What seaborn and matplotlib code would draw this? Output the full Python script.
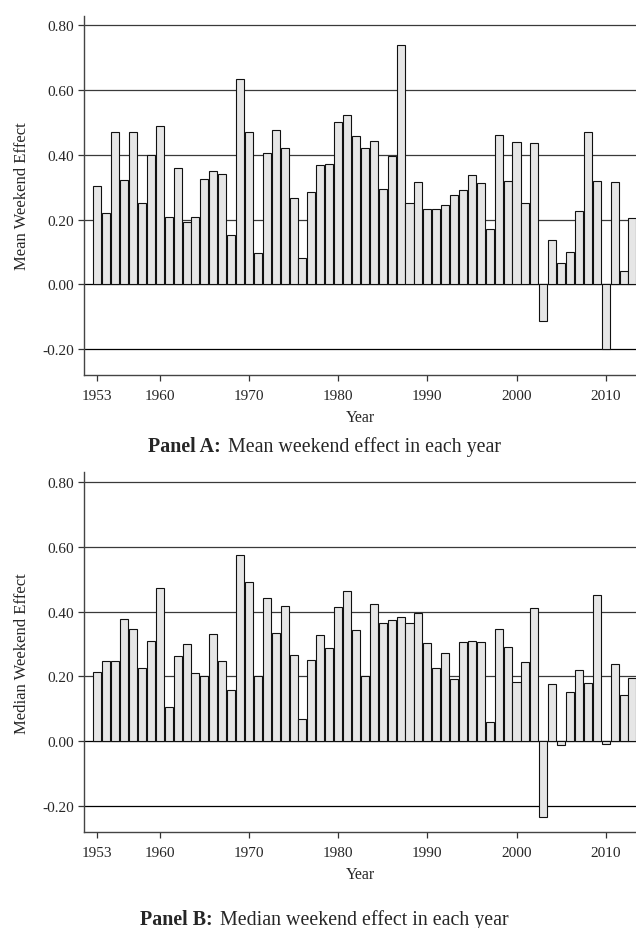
import numpy as np
import pandas as pd
import matplotlib
matplotlib.use("Agg")
import matplotlib.pyplot as plt
import seaborn as sns

years = list(range(1953, 2014))

mean_effect = [
    0.304, 0.219, 0.470, 0.321, 0.472, 0.251, 0.401, 0.489, 0.209, 0.358,
    0.194, 0.208, 0.327, 0.351, 0.340, 0.154, 0.635, 0.470, 0.097, 0.407,
    0.477, 0.420, 0.266, 0.082, 0.285, 0.370, 0.373, 0.501, 0.524, 0.459,
    0.420, 0.443, 0.294, 0.397, 0.739, 0.251, 0.317, 0.234, 0.232, 0.245,
    0.277, 0.290, 0.339, 0.314, 0.170, 0.461, 0.319, 0.441, 0.250, 0.436,
    -0.113, 0.136, 0.067, 0.099, 0.228, 0.472, 0.318, -0.201, 0.317, 0.041,
    0.204,
]

median_effect = [
    0.215, 0.247, 0.247, 0.378, 0.346, 0.225, 0.310, 0.474, 0.106, 0.264,
    0.301, 0.212, 0.201, 0.332, 0.247, 0.159, 0.575, 0.490, 0.200, 0.443,
    0.334, 0.418, 0.265, 0.070, 0.252, 0.327, 0.288, 0.413, 0.463, 0.343,
    0.200, 0.423, 0.365, 0.373, 0.384, 0.365, 0.395, 0.304, 0.226, 0.272,
    0.192, 0.306, 0.308, 0.306, 0.061, 0.347, 0.291, 0.184, 0.245, 0.410,
    -0.232, 0.178, -0.011, 0.151, 0.221, 0.179, 0.451, -0.007, 0.239, 0.142,
    0.196,
]

xtick_vals = [1953, 1960, 1970, 1980, 1990, 2000, 2010]
ytick_vals = [-0.2, 0.0, 0.2, 0.4, 0.6, 0.8]
ytick_labels = ["-0.20", "0.00", "0.20", "0.40", "0.60", "0.80"]

panels = [
    ("Mean Weekend Effect", mean_effect, "Panel A:", "Mean weekend effect in each year"),
    ("Median Weekend Effect", median_effect, "Panel B:", "Median weekend effect in each year"),
]

sns.set_style("ticks")
plt.rcParams["font.family"] = ["Liberation Serif", "DejaVu Serif"]

fig = plt.figure(figsize=(6.36, 9.29), dpi=100)
W, H = 636.0, 929.0

axes_px = [(84, 16.7, 376.0), (84, 473.0, 833.3)]  # left, top, bottom in px
caption_y = [446.7, 920.0]
caption_cx = 324.5
gap_px = 7.0

renderer = fig.canvas.get_renderer()

for i, (ylabel, vals, bold_txt, norm_txt) in enumerate(panels):
    left, top, bottom = axes_px[i]
    ax = fig.add_axes([left / W, 1 - bottom / H, (W - left) / W, (bottom - top) / H])
    df = pd.DataFrame({"Year": years, "Value": vals})
    for yv in ytick_vals:
        ax.axhline(yv, color="black" if yv <= 0 else "#3a3a3a", lw=0.9, zorder=0)
    sns.barplot(data=df, x="Year", y="Value", native_scale=True, width=0.9,
                color="#e6e6e6", saturation=1, edgecolor="#111111", linewidth=0.8,
                ax=ax, zorder=2)
    ax.set_xlim(1951.5, 2013.4)
    ax.set_ylim(-0.28, 0.83)
    ax.set_xticks(xtick_vals)
    ax.set_xticklabels([str(v) for v in xtick_vals], fontsize=11)
    ax.set_yticks(ytick_vals)
    ax.set_yticklabels(ytick_labels, fontsize=11)
    ax.tick_params(axis="x", direction="out", length=4, width=0.9, color="#333333", pad=6)
    ax.tick_params(axis="y", direction="out", length=4, width=0.9, color="#333333", pad=3)
    for s in ["top", "right"]:
        ax.spines[s].set_visible(False)
    for s in ["left", "bottom"]:
        ax.spines[s].set_color("#444444")
        ax.spines[s].set_linewidth(1.0)
    ax.set_ylabel(ylabel, fontsize=12, labelpad=9)
    ax.set_xlabel("Year", fontsize=11.5, labelpad=5)
    ax.set_facecolor("white")

    cy = 1 - caption_y[i] / H
    tb = fig.text(0, cy, bold_txt, fontsize=14.4, fontweight="bold", ha="left", va="center")
    tn = fig.text(0, cy, norm_txt, fontsize=14.4, ha="left", va="center")
    wb = tb.get_window_extent(renderer).width
    wn = tn.get_window_extent(renderer).width
    total = wb + gap_px + wn
    x0 = caption_cx - total / 2
    tb.set_x(x0 / W)
    tn.set_x((x0 + wb + gap_px) / W)

fig.savefig("out.png", dpi=100, facecolor="white")
